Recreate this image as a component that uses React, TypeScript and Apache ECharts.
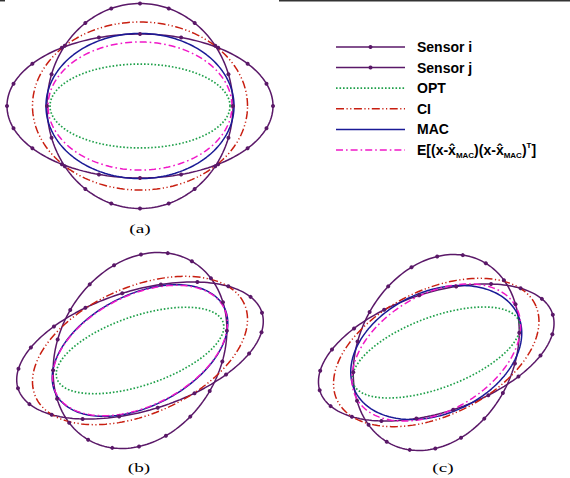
import React, { useEffect, useRef } from "react";
import * as echarts from "echarts";

// Covariance matrices [sxx, sxy, syy]; 1 unit = 10 px, y upwards
const A_SENSOR_I = [176.9, 0, 51.8];
const A_SENSOR_J = [86.5, 0, 105.1];
const A_OPT = [81.0, 0, 17.6];
const A_CI = [115.6, 0, 70.6];
const A_MAC = [88.4, 0, 52.6];
const A_E = [84.6, 0, 41.0];

const B_SENSOR_I = [152.0, 36, 47.0];
const B_SENSOR_J = [75.5, 18, 96.0];
const B_OPT = [70.2, 19.8, 18.7];
const B_CI = [115.6, 33.5, 55.0];
const B_MAC = [77.1, 24, 43.3];
const B_E = [76.5, 23.8, 42.5];

const C_SENSOR_I = [152.0, 36, 47.0];
const C_SENSOR_J = [75.5, 18, 96.0];
const C_OPT = [77.1, 22.7, 20.7];
const C_CI = [115.6, 33.5, 55.0];
const C_MAC = [80.1, 17.4, 44.9];
const C_E = [78.0, 23.5, 47.0];

const SERIES_NAMES = ["Sensor i", "Sensor j", "OPT", "CI", "MAC", "E"];
const PANEL_LABELS = ["(a)", "(b)", "(c)"];

const PANELS = [
  [A_SENSOR_I, A_SENSOR_J, A_OPT, A_CI, A_MAC, A_E],
  [B_SENSOR_I, B_SENSOR_J, B_OPT, B_CI, B_MAC, B_E],
  [C_SENSOR_I, C_SENSOR_J, C_OPT, C_CI, C_MAC, C_E],
];

const PURPLE = "#5a1868";
const GREEN = "#1fa04a";
const RED = "#c81e10";
const BLUE = "#1a1a96";
const MAGENTA = "#f018c8";

const STYLES: any[] = [
  { color: PURPLE, width: 1.5, type: "solid", marker: true },
  { color: PURPLE, width: 1.5, type: "solid", marker: true },
  { color: GREEN, width: 1.7, type: [1.6, 1.9], marker: false },
  { color: RED, width: 1.5, type: [8, 2.5, 1.2, 2.5, 1.2, 2.5], marker: false },
  { color: BLUE, width: 1.5, type: "solid", marker: false },
  { color: MAGENTA, width: 1.5, type: [7, 3, 1.6, 3], marker: false },
];

const N = 200;

function ellipseData(cov: number[], marker: boolean) {
  const [a11, a12, a22] = cov;
  const tr = a11 + a22;
  const det = a11 * a22 - a12 * a12;
  const disc = Math.sqrt(Math.max(0, (tr * tr) / 4 - det));
  const l1 = tr / 2 + disc;
  const l2 = tr / 2 - disc;
  const th = 0.5 * Math.atan2(2 * a12, a11 - a22);
  const ra = Math.sqrt(l1);
  const rb = Math.sqrt(Math.max(l2, 0));
  const out: any[] = [];
  for (let i = 0; i <= N; i++) {
    const t = (2 * Math.PI * i) / N;
    const x = ra * Math.cos(t) * Math.cos(th) - rb * Math.sin(t) * Math.sin(th);
    const y = ra * Math.cos(t) * Math.sin(th) + rb * Math.sin(t) * Math.cos(th);
    const hasMark = marker && i % 10 === 0 && i < N;
    out.push({ value: [x, y], symbol: hasMark ? "circle" : "none" });
  }
  return out;
}

const GRIDS = [
  { left: 0, top: 0, width: 280, height: 212, xr: 14, yr: 10.6 },
  { left: 0, top: 240.5, width: 280, height: 220, xr: 14, yr: 11 },
  { left: 302.5, top: 242.5, width: 280, height: 220, xr: 14, yr: 11 },
];

export default function App() {
  const ref = useRef<HTMLDivElement>(null);
  useEffect(() => {
    if (!ref.current) return;
    const chart = echarts.init(ref.current, undefined, { renderer: "svg" });

    const series: any[] = [];
    PANELS.forEach((covs, p) => {
      covs.forEach((cov, k) => {
        const st = STYLES[k];
        series.push({
          type: "line",
          name: SERIES_NAMES[k],
          xAxisIndex: p,
          yAxisIndex: p,
          data: ellipseData(cov, st.marker),
          symbol: st.marker ? "circle" : "none",
          symbolSize: 4,
          showSymbol: st.marker,
          showAllSymbol: true,
          clip: false,
          silent: true,
          lineStyle: { color: st.color, width: st.width, type: st.type },
          itemStyle: { color: st.color },
        });
      });
    });

    const legendRows = SERIES_NAMES.map((name, i) => {
      const y = 47 + i * 20.6;
      const st = STYLES[i];
      const els: any[] = [
        {
          type: "line",
          shape: { x1: 336, y1: y, x2: 405, y2: y },
          style: { stroke: st.color, lineWidth: st.width, lineDash: st.type === "solid" ? null : st.type },
        },
      ];
      if (st.marker) {
        els.push({ type: "circle", shape: { cx: 370.5, cy: y, r: 2 }, style: { fill: st.color } });
      }
      if (name === "E") {
        els.push({
          type: "text",
          x: 417,
          y: y,
          style: {
            text: "{m|E[(x-x\u0302}{s|MAC}{m|)(x-x\u0302}{s|MAC}{m|)}{p|T}{m|]}",
            verticalAlign: "middle",
            align: "left",
            rich: {
              m: { fontFamily: "Liberation Sans", fontWeight: "bold", fontSize: 14, lineHeight: 18, fill: "#000" },
              s: { fontFamily: "Liberation Sans", fontWeight: "bold", fontSize: 8, lineHeight: 8, verticalAlign: "bottom", fill: "#000" },
              p: { fontFamily: "Liberation Sans", fontWeight: "bold", fontSize: 8, lineHeight: 8, verticalAlign: "top", fill: "#000" },
            },
          },
        });
      } else {
        els.push({
          type: "text",
          x: 417,
          y: y,
          style: {
            text: name,
            font: "bold 14px 'Liberation Sans'",
            fill: "#000",
            verticalAlign: "middle",
            align: "left",
          },
        });
      }
      return els;
    }).flat();

    const labelPos = [
      [140, 229],
      [139, 468],
      [443, 468],
    ];
    const labels = PANEL_LABELS.map((t, i) => ({
      type: "text",
      x: labelPos[i][0],
      y: labelPos[i][1],
      scaleX: 1.6,
      style: {
        text: t,
        font: "12px 'Liberation Serif'",
        fill: "#000",
        align: "center",
        verticalAlign: "middle",
      },
    }));

    const option: any = {
      animation: false,
      backgroundColor: "#fff",
      grid: GRIDS.map((g) => ({ left: g.left, top: g.top, width: g.width, height: g.height, containLabel: false })),
      xAxis: GRIDS.map((g, i) => ({ type: "value", gridIndex: i, min: -g.xr, max: g.xr, show: false })),
      yAxis: GRIDS.map((g, i) => ({ type: "value", gridIndex: i, min: -g.yr, max: g.yr, show: false })),
      series,
      graphic: [
        { type: "line", shape: { x1: 0, y1: 0.7, x2: 5, y2: 0.7 }, style: { stroke: "#333", lineWidth: 1.5 } },
        { type: "line", shape: { x1: 279, y1: 0.7, x2: 570, y2: 0.7 }, style: { stroke: "#333", lineWidth: 1.5 } },
        ...legendRows,
        ...labels,
      ],
    };
    chart.setOption(option);
    return () => chart.dispose();
  }, []);
  return <div ref={ref} style={{ position: "absolute", left: 0, top: 0, width: 570, height: 478 }} />;
}
